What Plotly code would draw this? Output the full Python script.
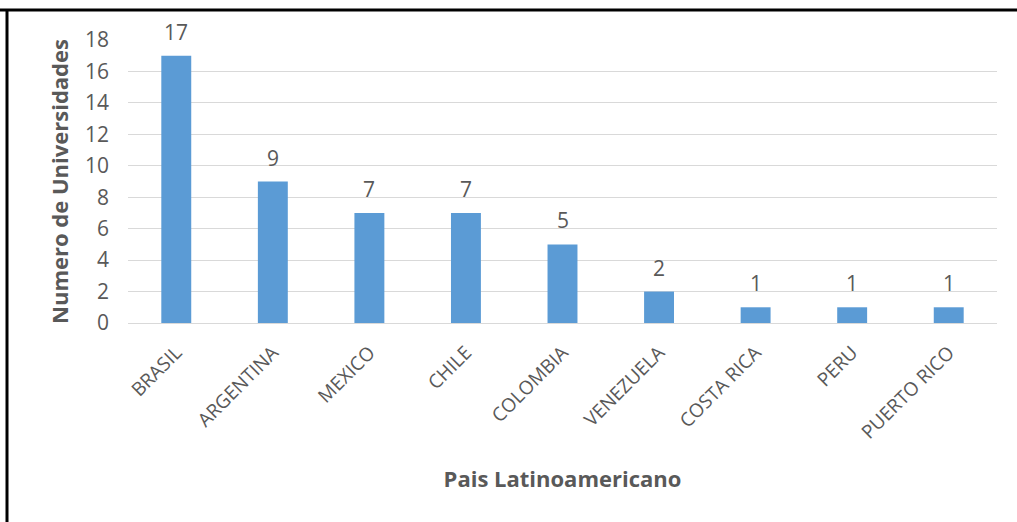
import plotly.graph_objects as go

paises = ["BRASIL", "ARGENTINA", "MEXICO", "CHILE", "COLOMBIA",
          "VENEZUELA", "COSTA RICA", "PERU", "PUERTO RICO"]
universidades = [17, 9, 7, 7, 5, 2, 1, 1, 1]
y_ticks = [0, 2, 4, 6, 8, 10, 12, 14, 16, 18]

FONT = "Open Sans"
GREY = "#595959"

fig = go.Figure()
fig.add_trace(go.Bar(
    x=paises, y=universidades,
    marker=dict(color="#5B9BD5", line=dict(width=0)),
    hoverinfo="x+y",
))

for p, v in zip(paises, universidades):
    fig.add_annotation(x=p, y=v, text=str(v), showarrow=False,
                       yanchor="middle", yshift=24,
                       font=dict(family=FONT, size=21, color=GREY))

# body margin removed via post_script, so figure coords = page coords
W, H = 1017, 522
L, T = 128, 40
R = W - 997
B = H - 323
pw, ph = W - L - R, H - T - B

def px_x(x):
    return (x - L) / pw

def px_y(y):
    return (H - B - y) / ph

# frame lines (top and left)
fig.add_shape(type="line", xref="paper", yref="paper",
              x0=px_x(0), x1=px_x(1030), y0=px_y(10), y1=px_y(10),
              line=dict(color="black", width=3))
fig.add_shape(type="line", xref="paper", yref="paper",
              x0=px_x(7), x1=px_x(7), y0=px_y(9), y1=px_y(530),
              line=dict(color="black", width=3))

fig.update_layout(
    width=W, height=H,
    margin=dict(l=L, r=R, t=T, b=B, autoexpand=False),
    paper_bgcolor="white", plot_bgcolor="white",
    bargap=0.69,
    showlegend=False,
    font=dict(family=FONT, color=GREY),
    xaxis=dict(
        tickangle=-45,
        tickfont=dict(family=FONT, size=19, color=GREY),
        showgrid=False, showline=True, linecolor="#d9d9d9", linewidth=1,
        ticks="", automargin=False, ticklabelstandoff=10,
        title=dict(text="<b>Pais Latinoamericano</b>",
                   font=dict(family=FONT, size=22, color=GREY), standoff=28),
    ),
    yaxis=dict(
        range=[0, 18], tickvals=y_ticks,
        tickfont=dict(family=FONT, size=21, color=GREY),
        showgrid=True, gridcolor="#d9d9d9", gridwidth=1,
        zeroline=True, zerolinecolor="#d9d9d9", zerolinewidth=1,
        ticks="", ticklabelstandoff=18, automargin=False,
        title=dict(text="<b>Numero de Universidades</b>",
                   font=dict(family=FONT, size=22, color=GREY), standoff=10),
    ),
)

fig.write_html(
    "out.html",
    config={"displayModeBar": False},
    post_script="document.body.style.margin='0';document.body.style.overflow='hidden';",
)
